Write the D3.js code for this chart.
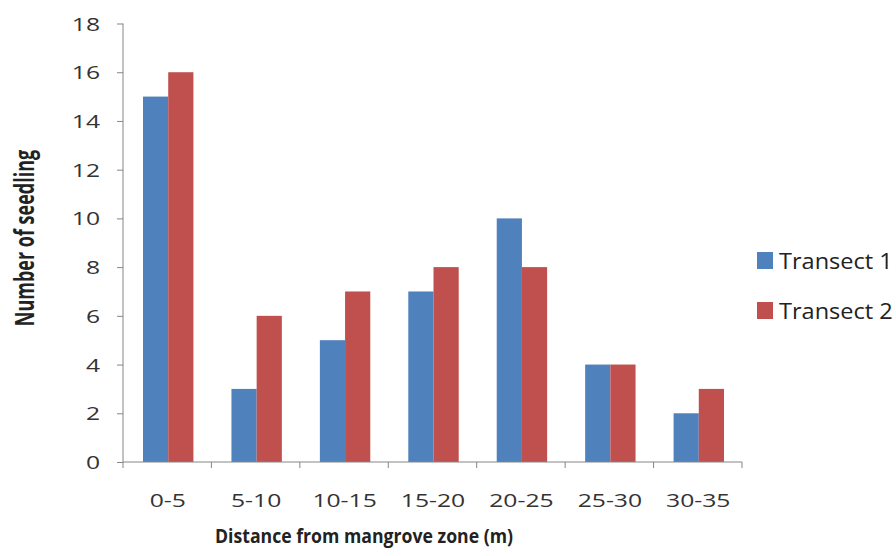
<!DOCTYPE html>
<html><head><meta charset="utf-8">
<script src="https://cdn.jsdelivr.net/npm/d3@7"></script>
<style>body{margin:0;background:#fff}svg{display:block}text{font-family:"Open Sans",sans-serif}</style>
</head><body><svg id="c" width="896" height="556"></svg>
<script>
const categories = ["0-5","5-10","10-15","15-20","20-25","25-30","30-35"];
const transect1 = [15,3,5,7,10,4,2];
const transect2 = [16,6,7,8,8,4,3];
const seriesNames = ["Transect 1","Transect 2"];
const colors = ["#4F81BD","#C0504D"];
const yTicks = [0,2,4,6,8,10,12,14,16,18];

const svg = d3.select("#c");
const x0 = 123, x1 = 742, yBottom = 462, yTop = 23.5;
const x = d3.scaleBand().domain(categories).range([x0,x1]).paddingInner(0.43).paddingOuter(0.215);
const xs = d3.scaleBand().domain(seriesNames).range([0,x.bandwidth()]);
const y = d3.scaleLinear().domain([0,18]).range([yBottom,yTop]);
const data = categories.map((c,i)=>({cat:c, vals:[transect1[i],transect2[i]]}));

const g = svg.append("g");
g.selectAll("g.grp").data(data).join("g").attr("class","grp")
 .attr("transform",d=>`translate(${x(d.cat)+1},0)`)
 .selectAll("rect").data(d=>d.vals.map((v,k)=>({v,k}))).join("rect")
 .attr("x",d=>xs(seriesNames[d.k])).attr("width",xs.bandwidth())
 .attr("y",d=>y(d.v)).attr("height",d=>yBottom-y(d.v))
 .attr("fill",d=>colors[d.k]);

const kTick = 1.3;
// y axis
const ya = svg.append("g").attr("transform",`translate(${x0},0)`)
 .call(d3.axisLeft(y).tickValues(yTicks).tickSize(6).tickFormat(""));
ya.select(".domain").attr("stroke","#868686").attr("d",`M0,${yTop}V${yBottom}`);
ya.selectAll(".tick line").attr("stroke","#868686");
svg.append("g").selectAll("text").data(yTicks).join("text")
 .attr("transform",d=>`translate(100,${y(d)+7}) scale(${kTick},1)`)
 .attr("text-anchor","end").attr("fill","#333").style("font-size","19px").text(d=>d);

// x axis
const xa = svg.append("g").attr("transform",`translate(0,${yBottom})`);
xa.append("line").attr("x1",x0).attr("x2",x1).attr("stroke","#868686");
const bounds = categories.map(c=>x(c)-x.step()*x.paddingInner()/2).concat([x1]);
xa.selectAll("line.tk").data(bounds).join("line").attr("class","tk")
 .attr("x1",d=>d).attr("x2",d=>d).attr("y1",0).attr("y2",6).attr("stroke","#868686");
xa.selectAll("text").data(categories).join("text")
 .attr("transform",d=>`translate(${x(d)+x.bandwidth()/2+0.5},45) scale(${kTick},1)`)
 .attr("text-anchor","middle")
 .attr("fill","#333").style("font-size","19px").text(d=>d);

svg.append("text").attr("transform","translate(364,543) scale(0.93,1)").attr("text-anchor","middle")
 .style("font-size","19px").style("font-weight","bold").attr("fill","#222")
 .text("Distance from mangrove zone (m)");
svg.append("text").attr("transform","translate(34,238) scale(1.45,1) rotate(-90)").attr("text-anchor","middle")
 .style("font-size","18px").style("font-weight","bold").attr("fill","#222")
 .text("Number of seedling");

const lg = svg.append("g");
seriesNames.forEach((s,i)=>{
  const yy = 260.5 + i*50;
  lg.append("rect").attr("x",757).attr("y",yy-8.5).attr("width",16).attr("height",17).attr("fill",colors[i]);
  lg.append("text").attr("transform",`translate(779,${yy+8}) scale(1.07,1)`).attr("fill","#222").style("font-size","22px").text(s);
});
</script></body></html>
